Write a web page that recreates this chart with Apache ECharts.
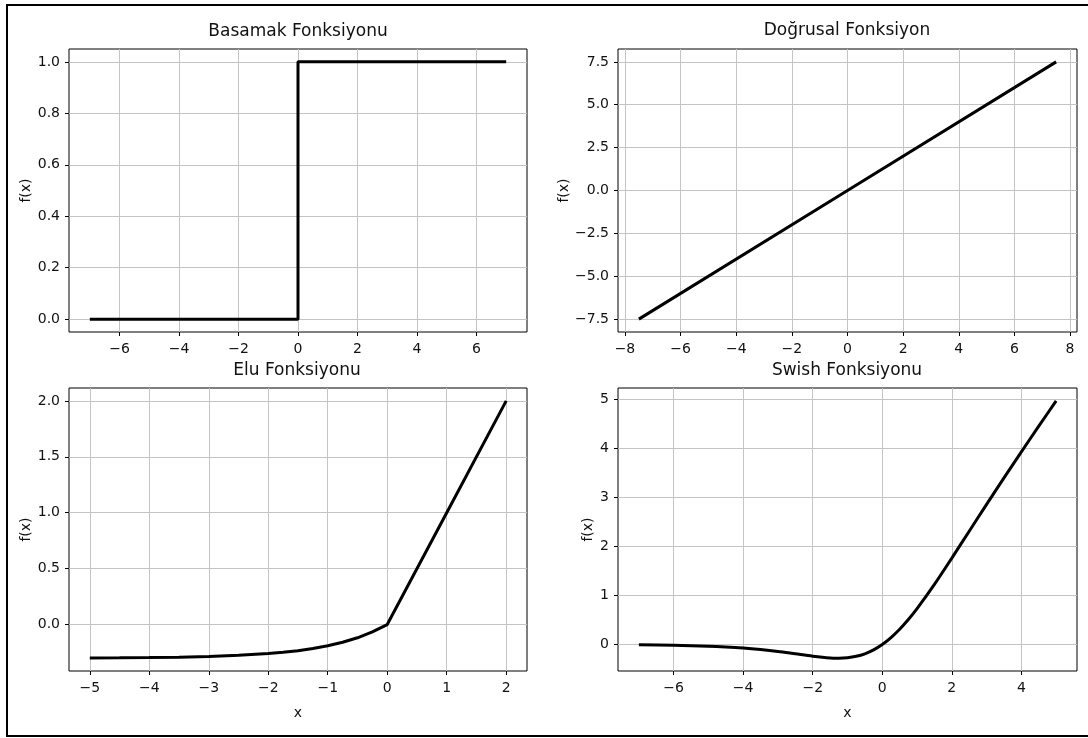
<!DOCTYPE html>
<html>
<head>
<meta charset="utf-8">
<script src="https://cdn.jsdelivr.net/npm/echarts@6/dist/echarts.min.js"></script>
<style>
  html, body { margin: 0; padding: 0; background: #fff; }
  #chart { width: 1088px; height: 738px; }
</style>
</head>
<body>
<div id="chart"></div>
<script>
// titles
var titles = ['Basamak Fonksiyonu', 'Doğrusal Fonksiyon', 'Elu Fonksiyonu', 'Swish Fonksiyonu'];

// step function
var stepX = [-7, 0, 0, 7];
var stepY = [0, 0, 1, 1];
var stepXTicks = [-6, -4, -2, 0, 2, 4, 6];
var stepYTicks = [0, 0.2, 0.4, 0.6, 0.8, 1.0];

// linear function
var linX = [-7.5, 0, 7.5];
var linY = [-7.5, 0, 7.5];
var linXTicks = [-8, -6, -4, -2, 0, 2, 4, 6, 8];
var linYTicks = [-7.5, -5, -2.5, 0, 2.5, 5, 7.5];

// elu
var eluX = [-5, -4.5, -4, -3.5, -3, -2.5, -2, -1.75, -1.5, -1.25, -1, -0.75, -0.5, -0.25, 0, 1, 2];
var eluY = [-0.298, -0.297, -0.295, -0.291, -0.285, -0.275, -0.259, -0.248, -0.233, -0.214, -0.19, -0.158, -0.118, -0.066, 0, 1, 2];
var eluXTicks = [-5, -4, -3, -2, -1, 0, 1, 2];
var eluYTicks = [0, 0.5, 1.0, 1.5, 2.0];

// swish
var swishX = [-7, -6, -5, -4.5, -4, -3.5, -3, -2.5, -2, -1.5, -1.25, -1, -0.75, -0.5, -0.25, 0, 0.25, 0.5, 0.75, 1, 1.5, 2, 2.5, 3, 3.5, 4, 4.5, 5];
var swishY = [-0.006, -0.015, -0.034, -0.05, -0.072, -0.103, -0.142, -0.19, -0.238, -0.274, -0.278, -0.269, -0.241, -0.189, -0.109, 0, 0.141, 0.311, 0.509, 0.731, 1.226, 1.762, 2.31, 2.858, 3.398, 3.928, 4.451, 4.967];
var swishXTicks = [-6, -4, -2, 0, 2, 4];
var swishYTicks = [0, 1, 2, 3, 4, 5];

var chart = echarts.init(document.getElementById('chart'));

var font = 'DejaVu Sans';
var ink = '#111';

function fmt(digits) {
  return function (v) {
    var s = Math.abs(v).toFixed(digits);
    return v < 0 ? '\u2212' + s : s;
  };
}

function zip(xs, ys) {
  return xs.map(function (x, i) { return [x, ys[i]]; });
}

function axis(idx, ticks, min, max, digits, extra) {
  var a = {
    type: 'value',
    gridIndex: idx,
    min: min,
    max: max,
    axisLine: { show: false, onZero: false },
    axisTick: { show: true, length: 4, customValues: ticks, lineStyle: { color: '#000', width: 1 } },
    axisLabel: { customValues: ticks, formatter: fmt(digits), color: ink, fontFamily: font, fontSize: 14 },
    splitLine: { show: true, lineStyle: { color: '#c4c4c4', width: 1 } }
  };
  for (var k in extra) a[k] = extra[k];
  return a;
}

var grids = [
  { left: 69, top: 49, width: 458, height: 283 },
  { left: 618, top: 49, width: 459, height: 283 },
  { left: 69, top: 388, width: 458, height: 283 },
  { left: 618, top: 388, width: 459, height: 283 }
].map(function (g) {
  g.show = true;
  g.borderColor = '#000';
  g.borderWidth = 1;
  g.backgroundColor = 'transparent';
  return g;
});

var yName = function (gap) {
  return { name: 'f(x)', nameLocation: 'middle', nameGap: gap, nameRotate: 90,
           nameTextStyle: { color: ink, fontFamily: font, fontSize: 14 } };
};
var xName = { name: 'x', nameLocation: 'middle', nameGap: 35,
              nameTextStyle: { color: ink, fontFamily: font, fontSize: 14 } };

var xAxes = [
  axis(0, stepXTicks, -7.7, 7.7, 0, {}),
  axis(1, linXTicks, -8.25, 8.25, 0, {}),
  axis(2, eluXTicks, -5.35, 2.35, 0, xName),
  axis(3, swishXTicks, -7.6, 5.6, 0, xName)
];
xAxes.forEach(function (a) { a.axisLabel.margin = 10; });

var yAxes = [
  axis(0, stepYTicks, -0.05, 1.05, 1, yName(35)),
  axis(1, linYTicks, -8.25, 8.25, 1, yName(44)),
  axis(2, eluYTicks, -0.415, 2.115, 1, yName(36)),
  axis(3, swishYTicks, -0.54, 5.23, 0, yName(23))
];
yAxes.forEach(function (a) { a.axisLabel.margin = 9; });

var titleCenters = [[298, 23], [847, 22], [297, 362], [847, 362]];
var titleOpts = titles.map(function (t, i) {
  return {
    text: t, left: titleCenters[i][0], top: titleCenters[i][1], textAlign: 'center', padding: 0,
    textStyle: { color: ink, fontFamily: font, fontSize: 17, fontWeight: 'normal' }
  };
});

var sets = [zip(stepX, stepY), zip(linX, linY), zip(eluX, eluY), zip(swishX, swishY)];
var series = sets.map(function (d, i) {
  return {
    type: 'line',
    xAxisIndex: i,
    yAxisIndex: i,
    data: d,
    showSymbol: false,
    smooth: i === 3 ? 0.3 : false,
    lineStyle: { color: '#000', width: 3 },
    silent: true
  };
});

chart.setOption({
  animation: false,
  backgroundColor: '#fff',
  title: titleOpts,
  grid: grids,
  xAxis: xAxes,
  yAxis: yAxes,
  series: series,
  graphic: [{
    type: 'rect',
    shape: { x: 7, y: 5, width: 1100, height: 731 },
    style: { fill: 'none', stroke: '#000', lineWidth: 2 },
    silent: true
  }]
});
</script>
</body>
</html>
